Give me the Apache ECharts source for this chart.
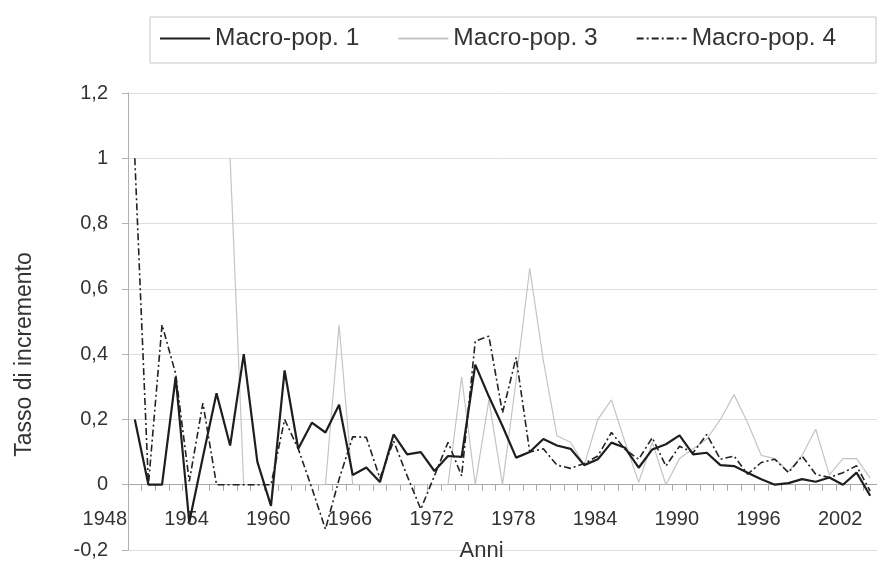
<!DOCTYPE html>
<html>
<head>
<meta charset="utf-8">
<script src="https://cdn.jsdelivr.net/npm/echarts@6/dist/echarts.min.js"></script>
<style>
html,body{margin:0;padding:0;background:#fff;}
#chart{width:877px;height:561px;}
</style>
</head>
<body>
<div id="chart"></div>
<script>
// Years 1950..2004
const years = [];
for (let y = 1950; y <= 2004; y++) years.push(String(y));

// Tick labels as printed under the axis (every 6th category)
const xTickLabels = ['1948','1954','1960','1966','1972','1978','1984','1990','1996','2002'];

const macroPop1 = [
  0.20, 0.00, 0.00, 0.33, -0.115, 0.085, 0.28, 0.12, 0.40, 0.07,
  -0.065, 0.35, 0.11, 0.19, 0.16, 0.245, 0.03, 0.053, 0.008, 0.154,
  0.093, 0.10, 0.042, 0.088, 0.085, 0.368, 0.27, 0.18, 0.083, 0.10,
  0.14, 0.12, 0.11, 0.06, 0.078, 0.129, 0.113, 0.052, 0.108, 0.124,
  0.151, 0.093, 0.098, 0.06, 0.057, 0.037, 0.017, 0.0, 0.005, 0.017,
  0.009, 0.022, 0.0, 0.037, -0.034
];

const macroPop3 = [
  null, null, null, null, null, null, null, 1.0, 0.0, 0.0,
  0.0, 0.0, 0.0, 0.0, 0.0, 0.49, 0.0, 0.0, 0.0, 0.0,
  0.0, 0.0, 0.0, 0.0, 0.33, 0.0, 0.26, 0.0, 0.32, 0.663,
  0.38, 0.15, 0.13, 0.06, 0.20, 0.26, 0.13, 0.007, 0.13, 0.0,
  0.08, 0.11, 0.14, 0.20, 0.276, 0.19, 0.09, 0.08, 0.04, 0.09,
  0.17, 0.03, 0.08, 0.08, 0.02
];

const macroPop4 = [
  1.0, 0.0, 0.49, 0.34, 0.01, 0.25, 0.0, 0.0, 0.0, 0.0,
  0.0, 0.2, 0.11, -0.01, -0.136, 0.017, 0.147, 0.145, 0.02, 0.134,
  0.027, -0.075, 0.027, 0.13, 0.027, 0.44, 0.455, 0.22, 0.39, 0.10,
  0.11, 0.06, 0.05, 0.065, 0.088, 0.16, 0.108, 0.078, 0.144, 0.057,
  0.118, 0.098, 0.154, 0.078, 0.088, 0.032, 0.068, 0.078, 0.037, 0.088,
  0.032, 0.022, 0.037, 0.058, -0.02
];

const FONT = '"Liberation Sans", Arial, sans-serif';

const chart = echarts.init(document.getElementById('chart'), null, {renderer: 'canvas'});
chart.setOption({
  animation: false,
  backgroundColor: '#ffffff',
  textStyle: {fontFamily: FONT},
  legend: {
    left: 150, top: 17,
    padding: [9, 40, 12, 9],
    borderColor: '#c8c8c8', borderWidth: 1,
    itemWidth: 50, itemHeight: 14, itemGap: 38,
    itemStyle: {opacity: 0},
    data: ['Macro-pop. 1', 'Macro-pop. 3', 'Macro-pop. 4'],
    textStyle: {fontSize: 24.5, color: '#333', fontFamily: FONT}
  },
  grid: {left: 128, right: 0, top: 93, bottom: 11, outerBoundsMode: 'none'},
  xAxis: {
    type: 'category',
    data: years,
    boundaryGap: true,
    axisLine: {onZero: true, lineStyle: {color: '#a8a8a8', width: 1}},
    axisTick: {show: true, interval: 0, length: 6, lineStyle: {color: '#a8a8a8'}},
    axisLabel: {
      interval: 5,
      margin: -41,
      formatter: function (v, i) { return '{t|' + xTickLabels[Math.round(i / 6)] + '}'; },
      rich: {t: {padding: [0, 60, 0, 0], fontSize: 20, color: '#333', fontFamily: FONT}}
    },
    splitLine: {show: false},
    name: 'Anni',
    nameLocation: 'middle',
    nameGap: -10,
    nameTextStyle: {fontSize: 22, color: '#333', padding: [0, 42, 0, 0], fontFamily: FONT}
  },
  yAxis: {
    type: 'value',
    min: -0.2, max: 1.2, interval: 0.2,
    axisLine: {show: true, lineStyle: {color: '#b0b0b0'}},
    axisTick: {show: true, length: 6, lineStyle: {color: '#b0b0b0'}},
    axisLabel: {
      margin: 20, fontSize: 20, color: '#333', fontFamily: FONT,
      formatter: function (v) { return String(Math.round(v * 10) / 10).replace('.', ','); }
    },
    splitLine: {show: true, lineStyle: {color: '#dedede', width: 1}},
    name: 'Tasso di incremento',
    nameLocation: 'middle',
    nameGap: 92,
    nameTextStyle: {fontSize: 23, color: '#333', padding: [0, 66, 0, 0], fontFamily: FONT}
  },
  series: [
    {
      name: 'Macro-pop. 1', type: 'line', data: macroPop1,
      showSymbol: false, symbol: 'none', z: 4,
      lineStyle: {color: '#1e1e1e', width: 2.2},
      itemStyle: {color: '#1e1e1e'}
    },
    {
      name: 'Macro-pop. 3', type: 'line', data: macroPop3,
      showSymbol: false, symbol: 'none', z: 2, connectNulls: false,
      lineStyle: {color: '#c4c4c4', width: 1.2},
      itemStyle: {color: '#c4c4c4'}
    },
    {
      name: 'Macro-pop. 4', type: 'line', data: macroPop4,
      showSymbol: false, symbol: 'none', z: 3,
      lineStyle: {color: '#222222', width: 1.6, type: [7, 3, 2, 3]},
      itemStyle: {color: '#222222'}
    }
  ]
});
</script>
</body>
</html>
